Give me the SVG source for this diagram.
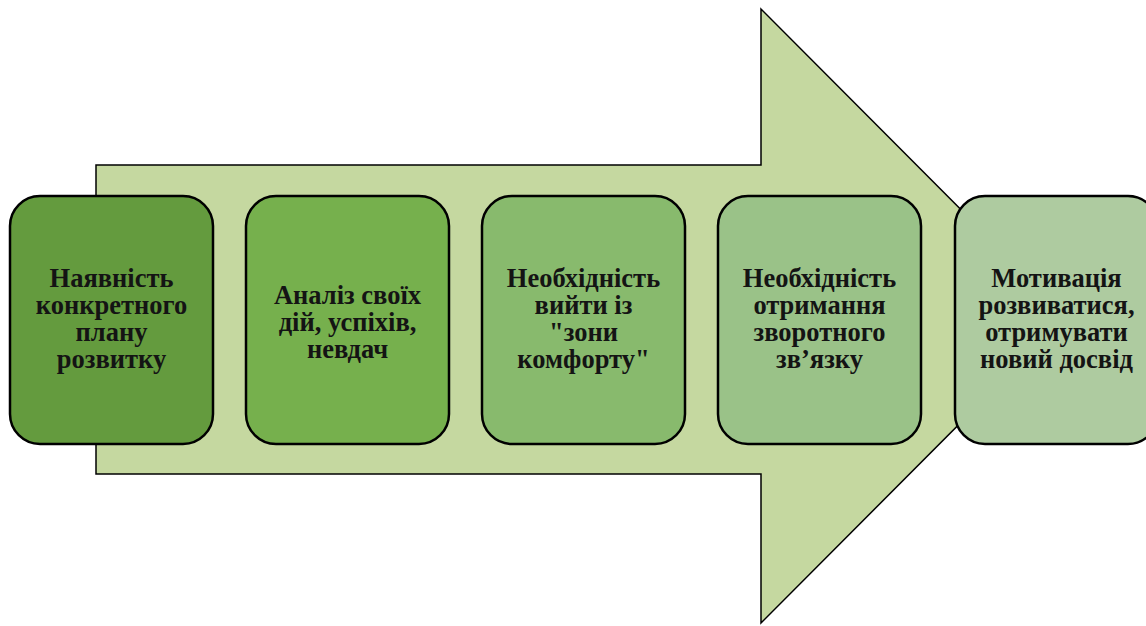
<svg xmlns="http://www.w3.org/2000/svg" width="1146" height="626" viewBox="0 0 1146 626">
<style>
.box{stroke:#000;stroke-width:2.5}
text{font-family:'Liberation Serif','Times New Roman',serif;font-weight:bold;font-size:26.5px;fill:#141414;text-anchor:middle}
</style>
<rect width="1146" height="626" fill="#fff"/>
<g id="arrow">
<polygon points="96,165 761,165 761,9 1067,316 761,623 761,474 96,474" fill="#c5d8a0" stroke="#000" stroke-width="1.5"/>
</g>
<g id="connectors"></g>
<g id="n1">
<rect class="box" x="10" y="196" width="203" height="248" rx="30" fill="#649b3e"/>
<text><tspan x="111.5" y="287">Наявність</tspan><tspan x="111.5" y="314">конкретного</tspan><tspan x="111.5" y="341">плану</tspan><tspan x="111.5" y="368">розвитку</tspan></text>
</g>
<g id="n2">
<rect class="box" x="246" y="196" width="203" height="248" rx="30" fill="#76b04d"/>
<text><tspan x="347.5" y="304">Аналіз своїх</tspan><tspan x="347.5" y="331">дій, успіхів,</tspan><tspan x="347.5" y="358">невдач</tspan></text>
</g>
<g id="n3">
<rect class="box" x="482" y="196" width="203" height="248" rx="30" fill="#88ba6d"/>
<text><tspan x="583.5" y="287">Необхідність</tspan><tspan x="583.5" y="314">вийти із</tspan><tspan x="583.5" y="341">"зони</tspan><tspan x="583.5" y="368">комфорту"</tspan></text>
</g>
<g id="n4">
<rect class="box" x="718" y="196" width="203" height="248" rx="30" fill="#9ac288"/>
<text><tspan x="819.5" y="287">Необхідність</tspan><tspan x="819.5" y="314">отримання</tspan><tspan x="819.5" y="341">зворотного</tspan><tspan x="819.5" y="368">зв’язку</tspan></text>
</g>
<g id="n5">
<rect class="box" x="955" y="196" width="203" height="248" rx="30" fill="#aecba0"/>
<text><tspan x="1056.5" y="287">Мотивація</tspan><tspan x="1056.5" y="314">розвиватися,</tspan><tspan x="1056.5" y="341">отримувати</tspan><tspan x="1056.5" y="368">новий досвід</tspan></text>
</g>
</svg>
